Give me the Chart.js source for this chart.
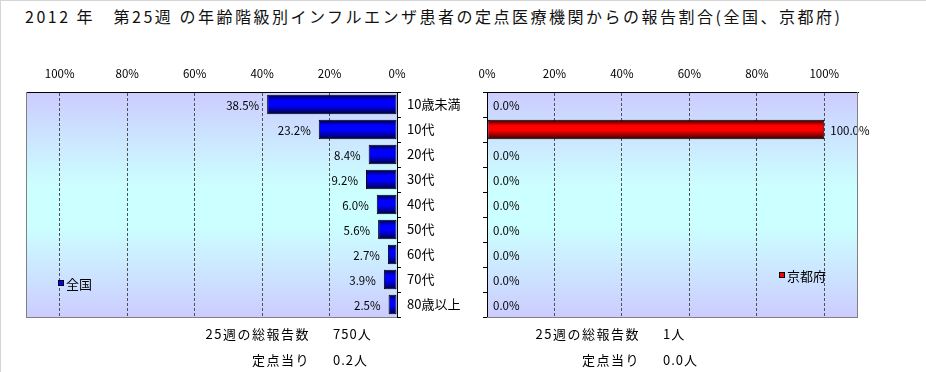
<!DOCTYPE html>
<html><head><meta charset="utf-8">
<script src="https://cdn.jsdelivr.net/npm/chart.js@4/dist/chart.umd.min.js"></script>
<style>
html,body{margin:0;padding:0;background:#fff;}
body{width:926px;height:372px;position:relative;overflow:hidden;font-family:"Noto Sans CJK JP","Noto Sans",sans-serif;}
#frame{position:absolute;left:0;top:0;width:926px;height:372px;border-top:1px solid #d4d4d4;border-left:1px solid #d4d4d4;box-sizing:border-box;}
.t{position:absolute;white-space:nowrap;color:#000;line-height:1;}
canvas{position:absolute;top:0;}
</style></head>
<body>
<div id="frame"></div>
<div class="t" id="title" style="left:25px;top:8px;font-size:16px;letter-spacing:2.5px;color:#111;"></div>
<canvas id="c1" width="470" height="372" style="left:0;"></canvas>
<canvas id="c2" width="466" height="372" style="left:460px;"></canvas>
<div class="t" style="right:616px;top:327px;font-size:13px;letter-spacing:1.5px;" id="f1a"></div>
<div class="t" style="left:333px;top:327px;font-size:13px;letter-spacing:1px;" id="f1b"></div>
<div class="t" style="right:616px;top:353px;font-size:13px;letter-spacing:1.5px;" id="f1c"></div>
<div class="t" style="left:333px;top:353px;font-size:13px;letter-spacing:1px;" id="f1d"></div>
<div class="t" style="right:286px;top:327px;font-size:13px;letter-spacing:1.5px;" id="f2a"></div>
<div class="t" style="left:663px;top:327px;font-size:13px;letter-spacing:1px;" id="f2b"></div>
<div class="t" style="right:286px;top:353px;font-size:13px;letter-spacing:1.5px;" id="f2c"></div>
<div class="t" style="left:663px;top:353px;font-size:13px;letter-spacing:1px;" id="f2d"></div>
<script>
// ---- data ----
const titleText = '2012 年\u3000第25週 の年齢階級別インフルエンザ患者の定点医療機関からの報告割合(全国、京都府)';
const categories = ['10歳未満','10代','20代','30代','40代','50代','60代','70代','80歳以上'];
const nationalLabel = '全国';
const nationalValues = [38.5, 23.2, 8.4, 9.2, 6.0, 5.6, 2.7, 3.9, 2.5];
const kyotoLabel = '京都府';
const kyotoValues = [0.0, 100.0, 0.0, 0.0, 0.0, 0.0, 0.0, 0.0, 0.0];
const xTickValues = [0, 20, 40, 60, 80, 100];
const totalLabel = '25週の総報告数';
const perSiteLabel = '定点当り';
const nationalTotal = '750人';
const nationalPerSite = '0.2人';
const kyotoTotal = '1人';
const kyotoPerSite = '0.0人';

document.getElementById('title').textContent = titleText;
document.getElementById('f1a').textContent = totalLabel;
document.getElementById('f1b').textContent = nationalTotal;
document.getElementById('f1c').textContent = perSiteLabel;
document.getElementById('f1d').textContent = nationalPerSite;
document.getElementById('f2a').textContent = totalLabel;
document.getElementById('f2b').textContent = kyotoTotal;
document.getElementById('f2c').textContent = perSiteLabel;
document.getElementById('f2d').textContent = kyotoPerSite;

const FONT = '"Noto Sans CJK JP","Noto Sans",sans-serif';
Chart.defaults.font.family = FONT;
Chart.defaults.color = '#000';
const BAR_PCT = 0.78;

function barFill(dark, bright) {
  return (ctx) => {
    const chart = ctx.chart;
    const y = chart.scales && chart.scales.y;
    if (!chart.chartArea || !y || ctx.type !== 'data') return bright;
    const cy = y.getPixelForValue(ctx.dataIndex);
    const band = Math.abs(y.getPixelForValue(1) - y.getPixelForValue(0));
    const h = band * BAR_PCT;
    const g = chart.ctx.createLinearGradient(0, cy - h / 2, 0, cy + h / 2);
    g.addColorStop(0, dark);
    g.addColorStop(0.3, bright);
    g.addColorStop(0.55, bright);
    g.addColorStop(1, dark);
    return g;
  };
}

const plotDecor = {
  id: 'plotDecor',
  beforeDraw(chart, args, opts) {
    const {ctx, chartArea: a} = chart;
    const g = ctx.createLinearGradient(0, a.top, 0, a.bottom);
    g.addColorStop(0, '#ccccff');
    g.addColorStop(0.42, '#ccffff');
    g.addColorStop(0.6, '#ccffff');
    g.addColorStop(1, '#ccccff');
    ctx.save();
    ctx.fillStyle = g;
    ctx.fillRect(a.left, a.top, a.right - a.left, a.bottom - a.top);
    ctx.restore();
  },
  afterDraw(chart, args, opts) {
    const {ctx, chartArea: a} = chart;
    ctx.save();
    ctx.strokeStyle = '#808080';
    ctx.lineWidth = 1;
    ctx.beginPath();
    ctx.moveTo(a.left, a.bottom + 0.5);
    ctx.lineTo(a.right, a.bottom + 0.5);
    const sx = opts.side === 'left' ? a.left + 0.5 : a.right - 0.5;
    ctx.moveTo(sx, a.top);
    ctx.lineTo(sx, a.bottom + 1);
    ctx.stroke();
    ctx.restore();
  }
};

const valueLabels = {
  id: 'valueLabels',
  afterDatasetsDraw(chart, args, opts) {
    const {ctx} = chart;
    ctx.save();
    ctx.font = '11.5px ' + FONT;
    ctx.fillStyle = '#000';
    ctx.textBaseline = 'middle';
    chart.data.datasets.forEach((ds, di) => {
      chart.getDatasetMeta(di).data.forEach((el, i) => {
        const txt = Number(ds.data[i]).toFixed(1) + '%';
        if (opts.side === 'left') {
          ctx.textAlign = 'right';
          ctx.fillText(txt, el.x - 8, el.y + 1);
        } else {
          ctx.textAlign = 'left';
          ctx.fillText(txt, el.x + 6, el.y + 1);
        }
      });
    });
    ctx.restore();
  }
};

const miniLegend = {
  id: 'miniLegend',
  afterDraw(chart, args, opts) {
    const {ctx} = chart;
    const ds = chart.data.datasets[0];
    ctx.save();
    ctx.fillStyle = opts.color;
    ctx.fillRect(opts.x, opts.y - 3, 6, 6);
    ctx.strokeStyle = '#000';
    ctx.lineWidth = 1;
    ctx.strokeRect(opts.x + 0.5, opts.y - 2.5, 5, 5);
    ctx.fillStyle = '#000';
    ctx.font = '13px ' + FONT;
    ctx.textBaseline = 'middle';
    ctx.textAlign = 'left';
    ctx.fillText(ds.label, opts.x + 8, opts.y + 1);
    ctx.restore();
  }
};

function makeChart(id, side, label, values, dark, bright, legendPos) {
  const isLeft = side === 'left';
  return new Chart(document.getElementById(id), {
    type: 'bar',
    data: {
      labels: categories,
      datasets: [{
        label: label,
        data: values,
        backgroundColor: barFill(dark, bright),
        borderColor: '#000',
        borderWidth: 1,
        borderSkipped: false,
        categoryPercentage: 1,
        barPercentage: BAR_PCT
      }]
    },
    options: {
      indexAxis: 'y',
      responsive: false,
      animation: false,
      devicePixelRatio: 1,
      layout: {padding: {left: isLeft ? 26 : 0, right: isLeft ? 0 : 68, top: 0, bottom: 55}},
      scales: {
        x: {
          type: 'linear',
          position: 'top',
          reverse: isLeft,
          min: 0,
          max: 110,
          afterFit: (s) => { s.height = 92; },
          afterBuildTicks: (s) => { s.ticks = xTickValues.map(v => ({value: v})); },
          ticks: {
            padding: 11,
            font: {size: 11.5},
            color: '#000',
            callback: (v) => v + '%'
          },
          grid: {
            drawTicks: false,
            color: (c) => (c.tick && c.tick.value > 0 && c.tick.value <= 100) ? '#505050' : 'rgba(0,0,0,0)',
            lineWidth: 1
          },
          border: {display: true, color: '#000', dash: [3, 2]}
        },
        y: {
          type: 'category',
          position: isLeft ? 'right' : 'left',
          afterFit: (s) => { s.width = isLeft ? 73 : 27; },
          grid: {offset: true, drawOnChartArea: false, drawTicks: true, tickLength: 4, color: '#000'},
          border: {display: true, color: '#000'},
          ticks: {
            padding: 6,
            font: {size: 13},
            color: '#000',
            callback: isLeft ? function (v, i) { return categories[i]; } : () => ''
          }
        }
      },
      plugins: {
        legend: {display: false},
        tooltip: {enabled: false},
        plotDecor: {side: isLeft ? 'left' : 'right'},
        valueLabels: {side: side},
        miniLegend: legendPos
      }
    },
    plugins: [plotDecor, valueLabels, miniLegend]
  });
}

makeChart('c1', 'left', nationalLabel, nationalValues, '#000040', '#0000ff', {x: 58, y: 283, color: '#0000ff'});
makeChart('c2', 'right', kyotoLabel, kyotoValues, '#300000', '#ff0000', {x: 319, y: 275, color: '#ff0000'});
</script>
</body></html>
